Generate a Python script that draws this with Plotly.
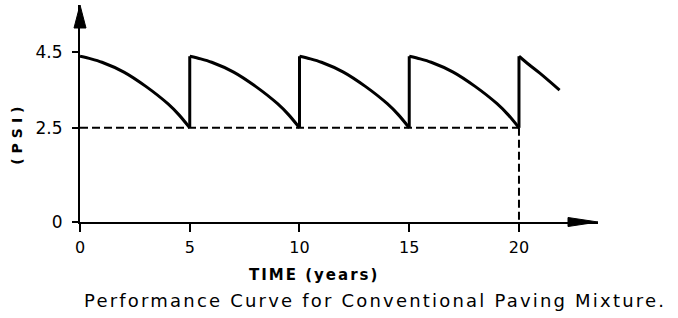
import plotly.graph_objects as go

# ---- data ----
cycle_t = [0, 0.5, 1, 2, 3, 4, 4.5, 5]            # years within one 5-year cycle
cycle_psi = [4.4, 4.33, 4.24, 3.98, 3.6, 3.14, 2.85, 2.5]
cycle_starts = [0, 5, 10, 15]
last_t = [20, 20.45, 20.95, 21.85]
last_psi = [4.4, 4.18, 3.95, 3.5]
terminal_psi = 2.5
terminal_year = 20
x_ticks = [0, 5, 10, 15, 20]
y_ticks = [0, 2.5, 4.5]
y_tick_labels = ["0", "2.5", "4.5"]

# curved decay segments (separated by gaps) and vertical rehabilitation jumps
cx, cy, jx, jy = [], [], [], []
for s in cycle_starts:
    cx += [s + t for t in cycle_t] + [None]
    cy += list(cycle_psi) + [None]
for s in cycle_starts[1:] + [last_t[0]]:
    jx += [s, s, None]
    jy += [cycle_psi[-1], cycle_psi[0], None]
cx += last_t
cy += last_psi

FONT = "DejaVu Sans"
PLOT_W, PLOT_H = 518, 217   # plot-area size in px (for arrow-head geometry)
fig = go.Figure()

dash = dict(color="black", width=2, dash="8px,4px")
fig.add_trace(go.Scatter(x=[0, terminal_year], y=[terminal_psi, terminal_psi],
                         mode="lines", line=dash, hoverinfo="skip"))
fig.add_trace(go.Scatter(x=[terminal_year, terminal_year], y=[terminal_psi, 0],
                         mode="lines", line=dash, hoverinfo="skip"))
fig.add_trace(go.Scatter(x=cx, y=cy, mode="lines", connectgaps=False,
                         line=dict(color="black", width=3, shape="spline", smoothing=0.8),
                         hoverinfo="skip"))
fig.add_trace(go.Scatter(x=jx, y=jy, mode="lines", connectgaps=False,
                         line=dict(color="black", width=3), hoverinfo="skip"))

# arrow heads at the ends of the axes (paper coords, sizes in px)
def px_x(p):
    return p / PLOT_W
def px_y(p):
    return p / PLOT_H

fig.add_shape(type="path", xref="paper", yref="paper",
              path=(f"M 1 0 L {1 - px_x(30)} {px_y(4.5)} "
                    f"L {1 - px_x(30)} {-px_y(4.5)} Z"),
              fillcolor="black", line=dict(color="black", width=1))
fig.add_shape(type="path", xref="paper", yref="paper",
              path=(f"M 0 1 L {px_x(6)} {1 - px_y(23)} "
                    f"L {-px_x(6)} {1 - px_y(23)} Z"),
              fillcolor="black", line=dict(color="black", width=1))

fig.update_layout(
    width=678, height=318,
    margin=dict(l=80, r=80, t=5, b=96, autoexpand=False),
    paper_bgcolor="white", plot_bgcolor="white",
    showlegend=False,
    font=dict(family=FONT, color="black"),
    xaxis=dict(range=[0, 23.6], showgrid=False, zeroline=False, automargin=False,
               showline=True, linecolor="black", linewidth=2,
               ticks="outside", ticklen=8, tickwidth=2, tickcolor="black",
               tickvals=x_ticks, ticktext=[str(v) for v in x_ticks],
               tickfont=dict(family=FONT, size=16, color="black"),
               ticklabelstandoff=2),
    yaxis=dict(range=[0, 5.76], showgrid=False, zeroline=False, automargin=False,
               showline=True, linecolor="black", linewidth=2,
               ticks="outside", ticklen=6, tickwidth=2, tickcolor="black",
               tickvals=y_ticks, ticktext=y_tick_labels,
               tickfont=dict(family=FONT, size=17, color="black"),
               ticklabelstandoff=6),
    annotations=[
        dict(text='<span style="letter-spacing:2px"><b>TIME (years)</b></span>',
             xref="paper", yref="paper",
             x=0.452, y=-0.244, showarrow=False, xanchor="center", yanchor="middle",
             font=dict(family=FONT, size=15, color="black")),
        dict(text='<span style="letter-spacing:5px"><b>(PSI)</b></span>',
             xref="paper", yref="paper",
             x=-0.122, y=0.41, showarrow=False, textangle=-90,
             xanchor="center", yanchor="middle",
             font=dict(family=FONT, size=14, color="black")),
        dict(text='<span style="letter-spacing:2.2px">Performance Curve for '
                  'Conventional Paving Mixture.</span>',
             xref="paper", yref="paper", x=0.5695, y=-0.364, showarrow=False,
             xanchor="center", yanchor="middle",
             font=dict(family=FONT, size=18, color="black")),
    ],
)

fig.write_html("out.html", config={"displayModeBar": False},
               post_script="document.body.style.margin='0px';")
